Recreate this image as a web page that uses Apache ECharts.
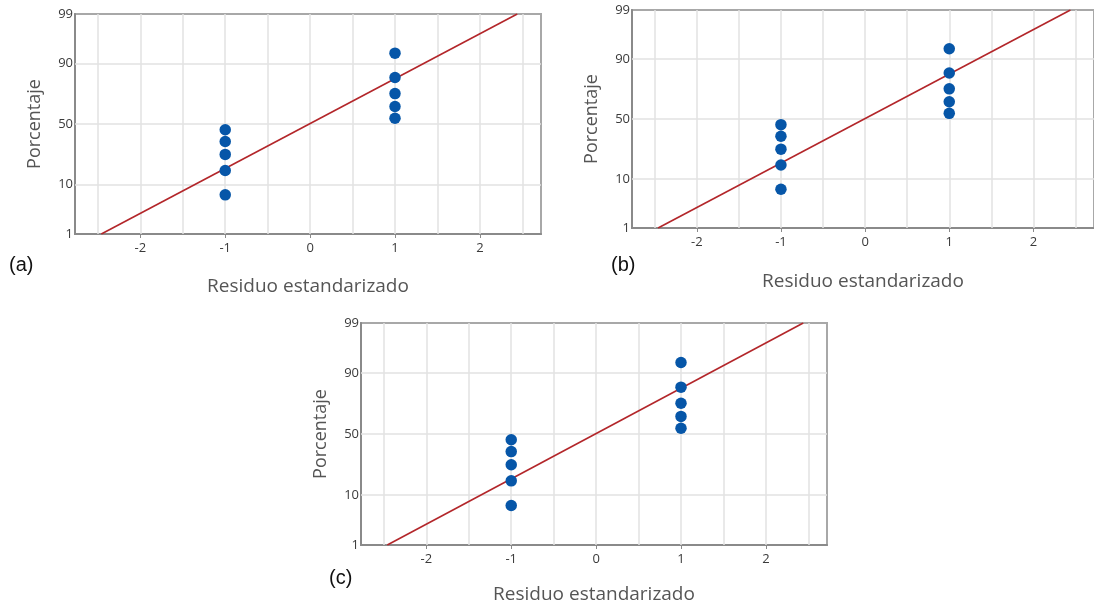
<!DOCTYPE html>
<html>
<head>
<meta charset="utf-8">
<script src="https://cdn.jsdelivr.net/npm/echarts@6/dist/echarts.min.js"></script>
<style>html,body{margin:0;padding:0;background:#fff;}#main{width:1094px;height:610px;}</style>
</head>
<body>
<div id="main"></div>
<script>
// ---- data ----
const pctTicks = [1, 10, 50, 90, 99];
const pctLabels = ['1', '10', '50', '90', '99'];
const xTicks = [-2, -1, 0, 1, 2];
const xGridVals = [-2.5, -2, -1.5, -1, -0.5, 0, 0.5, 1, 1.5, 2, 2.5];
const yGridPcts = [10, 50, 90];
const residuals = [-1, -1, -1, -1, -1, 1, 1, 1, 1, 1];
const percents = [6.7, 16.3, 26.0, 35.6, 45.2, 54.8, 64.4, 74.0, 83.7, 93.3];
const fitResid = [-2.46, 2.44];
const fitPct = [1, 99];
const panelLabels = ['(a)', '(b)', '(c)'];
const xTitle = 'Residuo estandarizado';
const yTitle = 'Porcentaje';

// inverse normal CDF (Acklam) to map percent to probability scale
function normInv(p) {
  const a = [-3.969683028665376e+01, 2.209460984245205e+02, -2.759285104469687e+02, 1.383577518672690e+02, -3.066479806614716e+01, 2.506628277459239e+00];
  const b = [-5.447609879822406e+01, 1.615858368580409e+02, -1.556989798598866e+02, 6.680131188771972e+01, -1.328068155288572e+01];
  const c = [-7.784894002430293e-03, -3.223964580411365e-01, -2.400758277161838e+00, -2.549732539343734e+00, 4.374664141464968e+00, 2.938163982698783e+00];
  const d = [7.784695709041462e-03, 3.224671290700398e-01, 2.445134137142996e+00, 3.754408661907416e+00];
  const pl = 0.02425, ph = 1 - pl;
  let q, r;
  if (p < pl) { q = Math.sqrt(-2 * Math.log(p)); return (((((c[0]*q+c[1])*q+c[2])*q+c[3])*q+c[4])*q+c[5]) / ((((d[0]*q+d[1])*q+d[2])*q+d[3])*q+1); }
  if (p <= ph) { q = p - 0.5; r = q*q; return (((((a[0]*r+a[1])*r+a[2])*r+a[3])*r+a[4])*r+a[5])*q / (((((b[0]*r+b[1])*r+b[2])*r+b[3])*r+b[4])*r+1); }
  q = Math.sqrt(-2 * Math.log(1 - p));
  return -(((((c[0]*q+c[1])*q+c[2])*q+c[3])*q+c[4])*q+c[5]) / ((((d[0]*q+d[1])*q+d[2])*q+d[3])*q+1);
}
const z = pct => normInv(pct / 100);
const zTicks = pctTicks.map(z);

const panels = [
  { left: 75, top: 14, width: 466, height: 220, nameGapX: 43, nameGapY: 31, lab: [9, 255] },
  { left: 632, top: 10, width: 466, height: 218, nameGapX: 44, nameGapY: 31, lab: [611, 255] },
  { left: 361, top: 323, width: 466, height: 222, nameGapX: 40, nameGapY: 31, lab: [329, 568] }
];

const grids = [], xAxes = [], yAxes = [], series = [], graphics = [];
const txtFont = 'Open Sans';
panels.forEach((p, i) => {
  grids.push({ left: p.left, top: p.top, width: p.width, height: p.height, show: true, borderColor: '#a8a8a8', borderWidth: 2, backgroundColor: '#fff' });
  xAxes.push({
    type: 'value', gridIndex: i, min: -2.77, max: 2.72,
    name: xTitle, nameLocation: 'middle', nameGap: p.nameGapX,
    nameTextStyle: { fontFamily: txtFont, fontSize: 19, color: '#555' },
    axisLine: { show: true, onZero: false, lineStyle: { color: '#8a8a8a', width: 2 } },
    axisTick: { show: true, length: 4, customValues: xTicks, lineStyle: { color: '#8a8a8a' } },
    axisLabel: { customValues: xTicks, fontFamily: txtFont, fontSize: 13, color: '#3a3a3a', margin: 8 },
    splitLine: { show: false }
  });
  yAxes.push({
    type: 'value', gridIndex: i, min: zTicks[0], max: zTicks[zTicks.length - 1],
    name: yTitle, nameLocation: 'middle', nameGap: p.nameGapY,
    nameTextStyle: { fontFamily: txtFont, fontSize: 18, color: '#555' },
    axisLine: { show: true, onZero: false, lineStyle: { color: '#8a8a8a', width: 2 } },
    axisTick: { show: false },
    axisLabel: {
      customValues: zTicks, fontFamily: txtFont, fontSize: 13, color: '#3a3a3a', margin: 2,
      formatter: v => { const k = zTicks.findIndex(t => Math.abs(t - v) < 1e-6); return k >= 0 ? pctLabels[k] : ''; }
    },
    splitLine: { show: false }
  });
  // gridlines
  series.push({
    type: 'line', xAxisIndex: i, yAxisIndex: i, data: [], z: 1, silent: true,
    markLine: {
      z: 1, silent: true, symbol: 'none', label: { show: false }, animation: false,
      lineStyle: { color: '#e2e2e2', width: 1.5, type: 'solid' },
      data: xGridVals.map(v => ({ xAxis: v })).concat(yGridPcts.map(pc => ({ yAxis: z(pc) })))
    }
  });
  // fitted line
  series.push({
    type: 'line', xAxisIndex: i, yAxisIndex: i, z: 3, silent: true, symbol: 'none', animation: false,
    lineStyle: { color: '#b3262a', width: 1.6 },
    data: fitResid.map((r, k) => [r, z(fitPct[k])])
  });
  // points
  series.push({
    type: 'scatter', xAxisIndex: i, yAxisIndex: i, z: 4, animation: false,
    symbolSize: 11.5, itemStyle: { color: '#0656a8', opacity: 1 },
    data: residuals.map((r, k) => [r, z(percents[k])])
  });
  graphics.push({
    type: 'text', left: p.lab[0], top: p.lab[1],
    style: { text: panelLabels[i], font: '20px "Liberation Sans", Arial, sans-serif', fill: '#111' }
  });
});

const chart = echarts.init(document.getElementById('main'), null, { renderer: 'canvas' });
chart.setOption({
  animation: false,
  backgroundColor: '#fff',
  grid: grids, xAxis: xAxes, yAxis: yAxes, series: series, graphic: graphics
});
</script>
</body>
</html>
